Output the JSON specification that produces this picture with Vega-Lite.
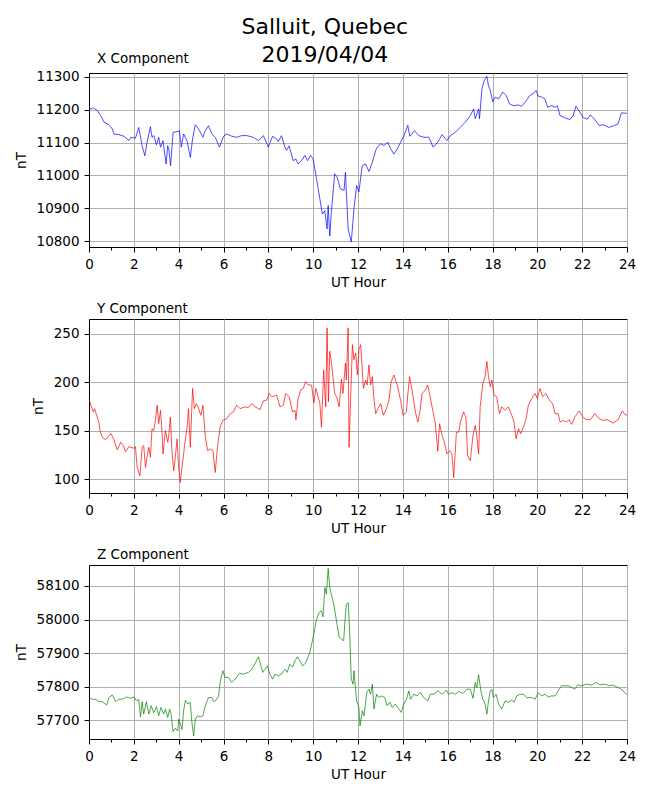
{
  "$schema": "https://vega.github.io/schema/vega-lite/v6.json",
  "padding": {"left": 13, "top": 15, "right": 16, "bottom": 6},
  "title": {
    "text": ["Salluit, Quebec", "2019/04/04"],
    "fontSize": 22,
    "fontWeight": "normal",
    "lineHeight": 28,
    "anchor": "middle",
    "frame": "bounds",
    "offset": -15,
    "color": "black"
  },
  "spacing": 11,
  "datasets": {
    "xcomp": [
      {"h": 0, "v": 11200}, {"h": 0.19, "v": 11205}, {"h": 0.37, "v": 11197}, {"h": 0.52, "v": 11182},
      {"h": 0.67, "v": 11162}, {"h": 0.89, "v": 11154}, {"h": 1.04, "v": 11141}, {"h": 1.11, "v": 11126},
      {"h": 1.33, "v": 11124}, {"h": 1.56, "v": 11119}, {"h": 1.78, "v": 11106}, {"h": 1.88, "v": 11116},
      {"h": 2.07, "v": 11113}, {"h": 2.22, "v": 11146}, {"h": 2.37, "v": 11090}, {"h": 2.49, "v": 11060},
      {"h": 2.59, "v": 11100}, {"h": 2.74, "v": 11148}, {"h": 2.81, "v": 11116}, {"h": 2.89, "v": 11121},
      {"h": 3.01, "v": 11093}, {"h": 3.11, "v": 11116}, {"h": 3.19, "v": 11086}, {"h": 3.3, "v": 11106},
      {"h": 3.44, "v": 11035}, {"h": 3.51, "v": 11090}, {"h": 3.56, "v": 11080}, {"h": 3.64, "v": 11030},
      {"h": 3.75, "v": 11131}, {"h": 3.93, "v": 11133}, {"h": 4.03, "v": 11136}, {"h": 4.12, "v": 11086},
      {"h": 4.22, "v": 11126}, {"h": 4.37, "v": 11106}, {"h": 4.52, "v": 11055}, {"h": 4.62, "v": 11111},
      {"h": 4.74, "v": 11154}, {"h": 4.89, "v": 11141}, {"h": 5.08, "v": 11116}, {"h": 5.19, "v": 11136},
      {"h": 5.33, "v": 11151}, {"h": 5.48, "v": 11126}, {"h": 5.63, "v": 11116}, {"h": 5.82, "v": 11086},
      {"h": 6.0, "v": 11119}, {"h": 6.15, "v": 11126}, {"h": 6.37, "v": 11119}, {"h": 6.59, "v": 11116},
      {"h": 6.81, "v": 11121}, {"h": 7.04, "v": 11121}, {"h": 7.33, "v": 11116}, {"h": 7.56, "v": 11106},
      {"h": 7.78, "v": 11121}, {"h": 8.0, "v": 11086}, {"h": 8.19, "v": 11119}, {"h": 8.37, "v": 11111},
      {"h": 8.44, "v": 11103}, {"h": 8.59, "v": 11121}, {"h": 8.74, "v": 11086}, {"h": 8.81, "v": 11076},
      {"h": 8.93, "v": 11090}, {"h": 9.11, "v": 11045}, {"h": 9.23, "v": 11050}, {"h": 9.33, "v": 11035},
      {"h": 9.48, "v": 11045}, {"h": 9.63, "v": 11061}, {"h": 9.75, "v": 11045}, {"h": 9.88, "v": 11061},
      {"h": 10.0, "v": 11050}, {"h": 10.15, "v": 10990}, {"h": 10.3, "v": 10929}, {"h": 10.41, "v": 10883},
      {"h": 10.52, "v": 10893}, {"h": 10.62, "v": 10838}, {"h": 10.67, "v": 10909}, {"h": 10.74, "v": 10816},
      {"h": 10.81, "v": 10888}, {"h": 10.96, "v": 11005}, {"h": 11.07, "v": 10995}, {"h": 11.21, "v": 10960},
      {"h": 11.38, "v": 10955}, {"h": 11.44, "v": 11010}, {"h": 11.56, "v": 10838}, {"h": 11.7, "v": 10798},
      {"h": 11.82, "v": 10899}, {"h": 11.94, "v": 10970}, {"h": 12.04, "v": 10950}, {"h": 12.19, "v": 11030},
      {"h": 12.34, "v": 11035}, {"h": 12.49, "v": 11012}, {"h": 12.64, "v": 11040}, {"h": 12.79, "v": 11076},
      {"h": 12.86, "v": 11086}, {"h": 13.01, "v": 11096}, {"h": 13.16, "v": 11091}, {"h": 13.33, "v": 11101},
      {"h": 13.45, "v": 11082}, {"h": 13.6, "v": 11065}, {"h": 13.75, "v": 11080}, {"h": 13.9, "v": 11101},
      {"h": 14.04, "v": 11119}, {"h": 14.22, "v": 11152}, {"h": 14.31, "v": 11119}, {"h": 14.52, "v": 11136},
      {"h": 14.71, "v": 11121}, {"h": 14.93, "v": 11116}, {"h": 15.16, "v": 11116}, {"h": 15.35, "v": 11086},
      {"h": 15.56, "v": 11101}, {"h": 15.75, "v": 11124}, {"h": 15.97, "v": 11106}, {"h": 16.12, "v": 11121},
      {"h": 16.34, "v": 11131}, {"h": 16.56, "v": 11146}, {"h": 16.79, "v": 11162}, {"h": 17.01, "v": 11182},
      {"h": 17.16, "v": 11202}, {"h": 17.23, "v": 11172}, {"h": 17.38, "v": 11202}, {"h": 17.42, "v": 11172},
      {"h": 17.53, "v": 11263}, {"h": 17.63, "v": 11288}, {"h": 17.75, "v": 11301}, {"h": 17.82, "v": 11273},
      {"h": 17.9, "v": 11258}, {"h": 18.01, "v": 11224}, {"h": 18.12, "v": 11238}, {"h": 18.27, "v": 11232},
      {"h": 18.46, "v": 11253}, {"h": 18.61, "v": 11243}, {"h": 18.76, "v": 11217}, {"h": 18.93, "v": 11212},
      {"h": 19.16, "v": 11214}, {"h": 19.3, "v": 11210}, {"h": 19.45, "v": 11222}, {"h": 19.67, "v": 11243},
      {"h": 19.82, "v": 11248}, {"h": 19.94, "v": 11258}, {"h": 20.04, "v": 11241}, {"h": 20.19, "v": 11238},
      {"h": 20.34, "v": 11232}, {"h": 20.46, "v": 11207}, {"h": 20.64, "v": 11212}, {"h": 20.79, "v": 11207},
      {"h": 20.89, "v": 11212}, {"h": 21.01, "v": 11182}, {"h": 21.23, "v": 11175}, {"h": 21.45, "v": 11170},
      {"h": 21.6, "v": 11182}, {"h": 21.72, "v": 11210}, {"h": 21.9, "v": 11192}, {"h": 22.04, "v": 11176},
      {"h": 22.22, "v": 11171}, {"h": 22.37, "v": 11184}, {"h": 22.56, "v": 11170}, {"h": 22.76, "v": 11152},
      {"h": 22.93, "v": 11154}, {"h": 23.2, "v": 11146}, {"h": 23.45, "v": 11152}, {"h": 23.6, "v": 11157},
      {"h": 23.75, "v": 11190}, {"h": 23.94, "v": 11189}, {"h": 24.0, "v": 11188}
    ],
    "ycomp": [
      {"h": 0, "v": 183.4}, {"h": 0.1, "v": 174.6}, {"h": 0.19, "v": 169.4}, {"h": 0.25, "v": 172.8},
      {"h": 0.34, "v": 165.9}, {"h": 0.44, "v": 159}, {"h": 0.49, "v": 150.3}, {"h": 0.59, "v": 143.4},
      {"h": 0.74, "v": 140.7}, {"h": 0.89, "v": 145.2}, {"h": 0.99, "v": 146.9}, {"h": 1.11, "v": 140.7},
      {"h": 1.26, "v": 130.3}, {"h": 1.41, "v": 138.2}, {"h": 1.53, "v": 134.8}, {"h": 1.63, "v": 128.5},
      {"h": 1.78, "v": 133.7}, {"h": 2.0, "v": 132}, {"h": 2.07, "v": 133.7}, {"h": 2.15, "v": 112.3},
      {"h": 2.27, "v": 103.6}, {"h": 2.37, "v": 133}, {"h": 2.44, "v": 134.8}, {"h": 2.52, "v": 112.3},
      {"h": 2.59, "v": 122.7}, {"h": 2.67, "v": 133}, {"h": 2.74, "v": 122.7}, {"h": 2.81, "v": 152},
      {"h": 2.89, "v": 150.3}, {"h": 2.96, "v": 160.7}, {"h": 3.04, "v": 176.3}, {"h": 3.11, "v": 157.3},
      {"h": 3.19, "v": 171.1}, {"h": 3.26, "v": 148.6}, {"h": 3.3, "v": 126.1}, {"h": 3.41, "v": 150.3},
      {"h": 3.51, "v": 138.2}, {"h": 3.56, "v": 145.2}, {"h": 3.63, "v": 164.2}, {"h": 3.7, "v": 129.6},
      {"h": 3.78, "v": 108.8}, {"h": 3.85, "v": 122.7}, {"h": 3.93, "v": 141.7}, {"h": 4.0, "v": 112.3},
      {"h": 4.07, "v": 96.7}, {"h": 4.15, "v": 112.3}, {"h": 4.3, "v": 141.7}, {"h": 4.37, "v": 152},
      {"h": 4.44, "v": 172.8}, {"h": 4.52, "v": 133}, {"h": 4.62, "v": 193.6}, {"h": 4.7, "v": 172.8},
      {"h": 4.79, "v": 178}, {"h": 4.89, "v": 172.8}, {"h": 4.99, "v": 165.9}, {"h": 5.08, "v": 176.3},
      {"h": 5.19, "v": 143.4}, {"h": 5.29, "v": 129.6}, {"h": 5.41, "v": 131.3}, {"h": 5.53, "v": 129.6},
      {"h": 5.63, "v": 107.1}, {"h": 5.73, "v": 133}, {"h": 5.85, "v": 153.8}, {"h": 5.97, "v": 160.7},
      {"h": 6.15, "v": 162.5}, {"h": 6.3, "v": 167.6}, {"h": 6.44, "v": 169.4}, {"h": 6.59, "v": 176.3},
      {"h": 6.74, "v": 172.8}, {"h": 6.96, "v": 174.6}, {"h": 7.11, "v": 173.9}, {"h": 7.26, "v": 178},
      {"h": 7.41, "v": 174.6}, {"h": 7.63, "v": 171.8}, {"h": 7.78, "v": 180.8}, {"h": 7.93, "v": 181.5},
      {"h": 8.04, "v": 188.4}, {"h": 8.15, "v": 185}, {"h": 8.37, "v": 186.7}, {"h": 8.52, "v": 174.6},
      {"h": 8.67, "v": 176.3}, {"h": 8.77, "v": 188.4}, {"h": 8.93, "v": 185}, {"h": 9.08, "v": 169.4},
      {"h": 9.19, "v": 171.1}, {"h": 9.23, "v": 161.4}, {"h": 9.33, "v": 183.2}, {"h": 9.44, "v": 191.9},
      {"h": 9.56, "v": 193.6}, {"h": 9.66, "v": 200.5}, {"h": 9.78, "v": 197.1}, {"h": 9.93, "v": 197.1},
      {"h": 10.03, "v": 178.7}, {"h": 10.12, "v": 193.6}, {"h": 10.22, "v": 185}, {"h": 10.3, "v": 178},
      {"h": 10.37, "v": 153.8}, {"h": 10.47, "v": 212.6}, {"h": 10.56, "v": 174.6}, {"h": 10.62, "v": 255.9},
      {"h": 10.68, "v": 179.8}, {"h": 10.74, "v": 231.7}, {"h": 10.81, "v": 221.3}, {"h": 10.96, "v": 188.4},
      {"h": 11.07, "v": 183.2}, {"h": 11.16, "v": 174.6}, {"h": 11.26, "v": 203}, {"h": 11.33, "v": 188.4},
      {"h": 11.44, "v": 219.6}, {"h": 11.48, "v": 202.2}, {"h": 11.56, "v": 255.9}, {"h": 11.6, "v": 133},
      {"h": 11.75, "v": 238.6}, {"h": 11.82, "v": 223}, {"h": 11.9, "v": 230}, {"h": 11.97, "v": 207.4},
      {"h": 12.04, "v": 233.4}, {"h": 12.12, "v": 238.6}, {"h": 12.19, "v": 212.6}, {"h": 12.24, "v": 193.6},
      {"h": 12.34, "v": 202.2}, {"h": 12.41, "v": 197.1}, {"h": 12.49, "v": 217.8}, {"h": 12.56, "v": 197.1},
      {"h": 12.64, "v": 205.7}, {"h": 12.71, "v": 183.2}, {"h": 12.79, "v": 167.6}, {"h": 12.89, "v": 172.8},
      {"h": 13.01, "v": 178}, {"h": 13.13, "v": 165.9}, {"h": 13.27, "v": 172.8}, {"h": 13.38, "v": 181.5},
      {"h": 13.48, "v": 200.5}, {"h": 13.6, "v": 207.4}, {"h": 13.75, "v": 197.1}, {"h": 13.9, "v": 181.5},
      {"h": 14.01, "v": 165.9}, {"h": 14.16, "v": 169.4}, {"h": 14.22, "v": 186.7}, {"h": 14.3, "v": 205.7},
      {"h": 14.41, "v": 192}, {"h": 14.56, "v": 169.4}, {"h": 14.67, "v": 159}, {"h": 14.76, "v": 169.4},
      {"h": 14.86, "v": 188.4}, {"h": 15.01, "v": 192}, {"h": 15.11, "v": 197.1}, {"h": 15.23, "v": 183.2},
      {"h": 15.35, "v": 169.4}, {"h": 15.45, "v": 157.3}, {"h": 15.56, "v": 128.9}, {"h": 15.64, "v": 157.3},
      {"h": 15.75, "v": 145.2}, {"h": 15.85, "v": 138.2}, {"h": 15.97, "v": 126.1}, {"h": 16.09, "v": 129.6},
      {"h": 16.19, "v": 126.1}, {"h": 16.27, "v": 101.9}, {"h": 16.39, "v": 148.6}, {"h": 16.49, "v": 148.6},
      {"h": 16.59, "v": 160.7}, {"h": 16.71, "v": 169.4}, {"h": 16.81, "v": 164.2}, {"h": 16.89, "v": 124.4},
      {"h": 17.01, "v": 119.2}, {"h": 17.13, "v": 145.2}, {"h": 17.23, "v": 155.5}, {"h": 17.3, "v": 145.2},
      {"h": 17.38, "v": 126.1}, {"h": 17.45, "v": 174.6}, {"h": 17.57, "v": 198.8}, {"h": 17.67, "v": 205.7},
      {"h": 17.75, "v": 221.3}, {"h": 17.82, "v": 205.7}, {"h": 17.9, "v": 195.3}, {"h": 17.97, "v": 202.2},
      {"h": 18.07, "v": 186.7}, {"h": 18.19, "v": 185}, {"h": 18.31, "v": 167.6}, {"h": 18.41, "v": 174.6},
      {"h": 18.56, "v": 171.1}, {"h": 18.71, "v": 174.6}, {"h": 18.86, "v": 165.9}, {"h": 18.96, "v": 159},
      {"h": 19.05, "v": 141.7}, {"h": 19.16, "v": 152}, {"h": 19.26, "v": 146.9}, {"h": 19.38, "v": 153.8},
      {"h": 19.5, "v": 162.5}, {"h": 19.6, "v": 176.3}, {"h": 19.75, "v": 183.2}, {"h": 19.9, "v": 188.4},
      {"h": 20.0, "v": 183.2}, {"h": 20.12, "v": 193.6}, {"h": 20.24, "v": 185}, {"h": 20.39, "v": 188.4},
      {"h": 20.53, "v": 181.5}, {"h": 20.68, "v": 178}, {"h": 20.79, "v": 167.6}, {"h": 20.93, "v": 167.6},
      {"h": 21.01, "v": 159}, {"h": 21.16, "v": 160.7}, {"h": 21.3, "v": 159}, {"h": 21.42, "v": 161.4},
      {"h": 21.53, "v": 156.6}, {"h": 21.67, "v": 164.2}, {"h": 21.87, "v": 170.4}, {"h": 22.04, "v": 163.5},
      {"h": 22.22, "v": 161.4}, {"h": 22.37, "v": 161.4}, {"h": 22.56, "v": 167.6}, {"h": 22.76, "v": 162.5},
      {"h": 22.93, "v": 160.7}, {"h": 23.11, "v": 161.4}, {"h": 23.38, "v": 157.9}, {"h": 23.6, "v": 161.4},
      {"h": 23.79, "v": 170.4}, {"h": 23.94, "v": 165.9}, {"h": 24.0, "v": 167}
    ],
    "zcomp": [
      {"h": 0, "v": 57768}, {"h": 0.15, "v": 57763}, {"h": 0.3, "v": 57763}, {"h": 0.44, "v": 57756},
      {"h": 0.59, "v": 57756}, {"h": 0.79, "v": 57746}, {"h": 0.89, "v": 57768}, {"h": 1.04, "v": 57776},
      {"h": 1.19, "v": 57756}, {"h": 1.33, "v": 57763}, {"h": 1.48, "v": 57763}, {"h": 1.67, "v": 57770},
      {"h": 1.85, "v": 57766}, {"h": 2.0, "v": 57770}, {"h": 2.12, "v": 57758}, {"h": 2.22, "v": 57763},
      {"h": 2.3, "v": 57711}, {"h": 2.37, "v": 57756}, {"h": 2.44, "v": 57719}, {"h": 2.56, "v": 57756},
      {"h": 2.67, "v": 57719}, {"h": 2.77, "v": 57744}, {"h": 2.89, "v": 57723}, {"h": 3.01, "v": 57741},
      {"h": 3.11, "v": 57714}, {"h": 3.21, "v": 57739}, {"h": 3.33, "v": 57719}, {"h": 3.41, "v": 57734},
      {"h": 3.51, "v": 57709}, {"h": 3.6, "v": 57734}, {"h": 3.66, "v": 57719}, {"h": 3.75, "v": 57667},
      {"h": 3.85, "v": 57677}, {"h": 3.96, "v": 57669}, {"h": 4.0, "v": 57704}, {"h": 4.07, "v": 57691},
      {"h": 4.15, "v": 57673}, {"h": 4.22, "v": 57729}, {"h": 4.3, "v": 57760}, {"h": 4.4, "v": 57749},
      {"h": 4.52, "v": 57754}, {"h": 4.59, "v": 57694}, {"h": 4.67, "v": 57654}, {"h": 4.74, "v": 57704},
      {"h": 4.84, "v": 57714}, {"h": 4.96, "v": 57711}, {"h": 5.08, "v": 57714}, {"h": 5.19, "v": 57744},
      {"h": 5.33, "v": 57768}, {"h": 5.48, "v": 57768}, {"h": 5.56, "v": 57756}, {"h": 5.7, "v": 57763},
      {"h": 5.78, "v": 57773}, {"h": 5.85, "v": 57813}, {"h": 5.97, "v": 57848}, {"h": 6.07, "v": 57828},
      {"h": 6.22, "v": 57828}, {"h": 6.37, "v": 57813}, {"h": 6.52, "v": 57823}, {"h": 6.71, "v": 57840},
      {"h": 6.89, "v": 57838}, {"h": 7.11, "v": 57843}, {"h": 7.26, "v": 57852}, {"h": 7.41, "v": 57869},
      {"h": 7.56, "v": 57889}, {"h": 7.63, "v": 57872}, {"h": 7.75, "v": 57843}, {"h": 7.85, "v": 57852},
      {"h": 7.96, "v": 57862}, {"h": 8.07, "v": 57838}, {"h": 8.19, "v": 57823}, {"h": 8.3, "v": 57838},
      {"h": 8.44, "v": 57833}, {"h": 8.59, "v": 57838}, {"h": 8.74, "v": 57852}, {"h": 8.84, "v": 57843},
      {"h": 8.96, "v": 57867}, {"h": 9.08, "v": 57859}, {"h": 9.19, "v": 57877}, {"h": 9.29, "v": 57889},
      {"h": 9.41, "v": 57877}, {"h": 9.53, "v": 57862}, {"h": 9.67, "v": 57872}, {"h": 9.85, "v": 57902},
      {"h": 10.0, "v": 57947}, {"h": 10.15, "v": 58001}, {"h": 10.27, "v": 58021}, {"h": 10.37, "v": 58026},
      {"h": 10.44, "v": 58008}, {"h": 10.52, "v": 58095}, {"h": 10.59, "v": 58075}, {"h": 10.67, "v": 58152},
      {"h": 10.74, "v": 58095}, {"h": 10.81, "v": 58075}, {"h": 10.92, "v": 58046}, {"h": 11.04, "v": 57996},
      {"h": 11.16, "v": 57947}, {"h": 11.26, "v": 57942}, {"h": 11.36, "v": 57937}, {"h": 11.44, "v": 58016},
      {"h": 11.48, "v": 58046}, {"h": 11.57, "v": 58050}, {"h": 11.63, "v": 57956}, {"h": 11.7, "v": 57823},
      {"h": 11.78, "v": 57808}, {"h": 11.82, "v": 57848}, {"h": 11.94, "v": 57758}, {"h": 12.04, "v": 57739},
      {"h": 12.09, "v": 57684}, {"h": 12.19, "v": 57729}, {"h": 12.27, "v": 57714}, {"h": 12.39, "v": 57783},
      {"h": 12.49, "v": 57793}, {"h": 12.56, "v": 57778}, {"h": 12.64, "v": 57808}, {"h": 12.71, "v": 57734},
      {"h": 12.83, "v": 57778}, {"h": 12.93, "v": 57768}, {"h": 13.04, "v": 57773}, {"h": 13.19, "v": 57768},
      {"h": 13.3, "v": 57744}, {"h": 13.42, "v": 57754}, {"h": 13.53, "v": 57739}, {"h": 13.67, "v": 57749},
      {"h": 13.82, "v": 57734}, {"h": 13.93, "v": 57724}, {"h": 14.04, "v": 57749}, {"h": 14.16, "v": 57763},
      {"h": 14.27, "v": 57788}, {"h": 14.34, "v": 57763}, {"h": 14.49, "v": 57778}, {"h": 14.64, "v": 57773},
      {"h": 14.79, "v": 57783}, {"h": 14.93, "v": 57768}, {"h": 15.11, "v": 57758}, {"h": 15.23, "v": 57778},
      {"h": 15.38, "v": 57778}, {"h": 15.56, "v": 57788}, {"h": 15.75, "v": 57778}, {"h": 15.94, "v": 57790},
      {"h": 16.04, "v": 57778}, {"h": 16.19, "v": 57783}, {"h": 16.34, "v": 57778}, {"h": 16.49, "v": 57786},
      {"h": 16.68, "v": 57780}, {"h": 16.86, "v": 57793}, {"h": 17.01, "v": 57793}, {"h": 17.13, "v": 57766},
      {"h": 17.23, "v": 57813}, {"h": 17.3, "v": 57798}, {"h": 17.38, "v": 57836}, {"h": 17.48, "v": 57788},
      {"h": 17.57, "v": 57763}, {"h": 17.67, "v": 57749}, {"h": 17.75, "v": 57719}, {"h": 17.82, "v": 57758},
      {"h": 17.9, "v": 57788}, {"h": 17.97, "v": 57793}, {"h": 18.04, "v": 57768}, {"h": 18.16, "v": 57778},
      {"h": 18.27, "v": 57749}, {"h": 18.41, "v": 57734}, {"h": 18.56, "v": 57758}, {"h": 18.71, "v": 57754},
      {"h": 18.86, "v": 57761}, {"h": 18.96, "v": 57754}, {"h": 19.08, "v": 57773}, {"h": 19.23, "v": 57778},
      {"h": 19.38, "v": 57778}, {"h": 19.53, "v": 57768}, {"h": 19.75, "v": 57768}, {"h": 19.9, "v": 57763},
      {"h": 20.04, "v": 57783}, {"h": 20.19, "v": 57773}, {"h": 20.34, "v": 57778}, {"h": 20.49, "v": 57770},
      {"h": 20.64, "v": 57773}, {"h": 20.79, "v": 57773}, {"h": 20.93, "v": 57788}, {"h": 21.08, "v": 57803},
      {"h": 21.23, "v": 57803}, {"h": 21.38, "v": 57803}, {"h": 21.53, "v": 57798}, {"h": 21.67, "v": 57793},
      {"h": 21.82, "v": 57806}, {"h": 21.97, "v": 57803}, {"h": 22.19, "v": 57808}, {"h": 22.42, "v": 57805},
      {"h": 22.61, "v": 57813}, {"h": 22.79, "v": 57806}, {"h": 23.01, "v": 57808}, {"h": 23.2, "v": 57803},
      {"h": 23.38, "v": 57805}, {"h": 23.6, "v": 57798}, {"h": 23.75, "v": 57793}, {"h": 23.94, "v": 57780},
      {"h": 24.0, "v": 57778}
    ]
  },
  "vconcat": [
    {
      "title": {"text": "X Component", "anchor": "start", "frame": "group", "dx": 8, "offset": 4, "fontSize": 13.5, "fontWeight": "normal"},
      "width": 538,
      "height": 174,
      "data": {"name": "xcomp"},
      "mark": {"type": "line", "color": "blue", "strokeWidth": 0.7},
      "encoding": {
        "x": {
          "field": "h", "type": "quantitative",
          "scale": {"domain": [0, 24], "nice": false},
          "axis": {
            "title": "UT Hour",
            "values": [0,1,2,3,4,5,6,7,8,9,10,11,12,13,14,15,16,17,18,19,20,21,22,23,24],
            "labelExpr": "datum.value % 2 == 0 ? datum.label : ''",
            "tickSize": {"condition": {"test": "datum.value % 2 == 1", "value": 3}, "value": 5},
            "gridOpacity": {"condition": {"test": "datum.value % 2 == 1", "value": 0}, "value": 1}
          }
        },
        "y": {
          "field": "v", "type": "quantitative",
          "scale": {"domain": [10783, 11311], "nice": false, "zero": false},
          "axis": {"title": "nT", "format": "d", "values": [10800, 10900, 11000, 11100, 11200, 11300]}
        }
      }
    },
    {
      "title": {"text": "Y Component", "anchor": "start", "frame": "group", "dx": 8, "offset": 4, "fontSize": 13.5, "fontWeight": "normal"},
      "width": 538,
      "height": 174,
      "data": {"name": "ycomp"},
      "mark": {"type": "line", "color": "red", "strokeWidth": 0.7},
      "encoding": {
        "x": {
          "field": "h", "type": "quantitative",
          "scale": {"domain": [0, 24], "nice": false},
          "axis": {
            "title": "UT Hour",
            "values": [0,1,2,3,4,5,6,7,8,9,10,11,12,13,14,15,16,17,18,19,20,21,22,23,24],
            "labelExpr": "datum.value % 2 == 0 ? datum.label : ''",
            "tickSize": {"condition": {"test": "datum.value % 2 == 1", "value": 3}, "value": 5},
            "gridOpacity": {"condition": {"test": "datum.value % 2 == 1", "value": 0}, "value": 1}
          }
        },
        "y": {
          "field": "v", "type": "quantitative",
          "scale": {"domain": [86, 265], "nice": false, "zero": false},
          "axis": {"title": "nT", "format": "d", "values": [100, 150, 200, 250]}
        }
      }
    },
    {
      "title": {"text": "Z Component", "anchor": "start", "frame": "group", "dx": 8, "offset": 4, "fontSize": 13.5, "fontWeight": "normal"},
      "width": 538,
      "height": 174,
      "data": {"name": "zcomp"},
      "mark": {"type": "line", "color": "green", "strokeWidth": 0.7},
      "encoding": {
        "x": {
          "field": "h", "type": "quantitative",
          "scale": {"domain": [0, 24], "nice": false},
          "axis": {
            "title": "UT Hour",
            "values": [0,1,2,3,4,5,6,7,8,9,10,11,12,13,14,15,16,17,18,19,20,21,22,23,24],
            "labelExpr": "datum.value % 2 == 0 ? datum.label : ''",
            "tickSize": {"condition": {"test": "datum.value % 2 == 1", "value": 3}, "value": 5},
            "gridOpacity": {"condition": {"test": "datum.value % 2 == 1", "value": 0}, "value": 1}
          }
        },
        "y": {
          "field": "v", "type": "quantitative",
          "scale": {"domain": [57645, 58162], "nice": false, "zero": false},
          "axis": {"title": "nT", "format": "d", "values": [57700, 57800, 57900, 58000, 58100]}
        }
      }
    }
  ],
  "config": {
    "font": "DejaVu Sans",
    "view": {"stroke": "black", "strokeWidth": 1},
    "title": {"color": "black", "font": "DejaVu Sans"},
    "axis": {
      "grid": true,
      "gridColor": "#b0b0b0",
      "gridWidth": 1,
      "domainColor": "black",
      "tickColor": "black",
      "tickSize": 5,
      "labelFont": "DejaVu Sans",
      "labelFontSize": 13.5,
      "labelColor": "black",
      "labelPadding": 5,
      "labelFlush": false,
      "titleFont": "DejaVu Sans",
      "titleFontSize": 13.5,
      "titleFontWeight": "normal",
      "titleColor": "black"
    },
    "axisX": {"titlePadding": 5},
    "axisY": {"titlePadding": 8}
  }
}
